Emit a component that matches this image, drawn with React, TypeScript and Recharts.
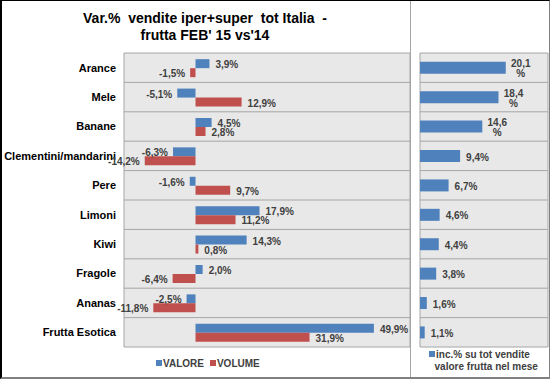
import React from 'react';
import { BarChart, Bar, XAxis, YAxis, CartesianGrid, LabelList } from 'recharts';

// categories, top to bottom
const fruits = [
  'Arance',
  'Mele',
  'Banane',
  'Clementini/mandarini',
  'Pere',
  'Limoni',
  'Kiwi',
  'Fragole',
  'Ananas',
  'Frutta Esotica',
];

// var.% FEB'15 vs FEB'14
const valore = [3.9, -5.1, 4.5, -6.3, -1.6, 17.9, 14.3, 2.0, -2.5, 49.9];
const volume = [-1.5, 12.9, 2.8, -14.2, 9.7, 11.2, 0.8, -6.4, -11.8, 31.9];

// inc.% su tot vendite valore frutta nel mese
const incidenza = [20.1, 18.4, 14.6, 9.4, 6.7, 4.6, 4.4, 3.8, 1.6, 1.1];

const varTicks = [-20, 0, 20, 40, 60];
const incTicks = [0, 10, 20, 30];

const BLUE = '#4F81BD';
const RED = '#C0504D';
const GRID = '#A6A6A6';
const PLOT_BG = '#E8E8E8';
const LABEL = '#404040';
const FONT = "Arial, 'Liberation Sans', sans-serif";

const fmt = (v: number) => v.toFixed(1).replace('.', ',') + '%';

const varData = fruits.map((name, i) => ({ name, valore: valore[i], volume: volume[i] }));
const incData = fruits.map((name, i) => ({ name, inc: incidenza[i] }));

// grid lines on the category boundaries instead of the band centres
const bandLines = ({ offset }: any) => {
  const n = fruits.length;
  return Array.from({ length: n + 1 }, (_, i) => offset.top + (i * offset.height) / n);
};

const VarLabel = (props: any) => {
  const { x, y, width, height, value } = props;
  const left = Math.min(x, x + width);
  const right = Math.max(x, x + width);
  const neg = value < 0;
  return (
    <text
      x={neg ? left - 5 : right + 6}
      y={y + height / 2 + 1}
      textAnchor={neg ? 'end' : 'start'}
      dominantBaseline="central"
      fontSize={10}
      fontWeight="bold"
      fontFamily={FONT}
      fill={LABEL}
    >
      {fmt(value)}
    </text>
  );
};

const IncLabel = (props: any) => {
  const { x, y, width, height, value } = props;
  const right = Math.max(x, x + width);
  const cy = y + height / 2;
  const common = { fontSize: 10, fontWeight: 'bold' as const, fontFamily: FONT, fill: LABEL };
  if (value >= 10) {
    // too wide for the space left: Excel wraps the "%" onto a second line
    const num = value.toFixed(1).replace('.', ',');
    return (
      <g>
        <text x={right + 15} y={cy - 4} textAnchor="middle" dominantBaseline="central" {...common}>
          {num}
        </text>
        <text x={right + 15} y={cy + 6} textAnchor="middle" dominantBaseline="central" {...common}>
          %
        </text>
      </g>
    );
  }
  return (
    <text x={right + 6} y={cy + 1} textAnchor="start" dominantBaseline="central" {...common}>
      {fmt(value)}
    </text>
  );
};

const legendText: React.CSSProperties = {
  fontFamily: FONT,
  fontSize: 10,
  fontWeight: 'bold',
  color: LABEL,
};

const Swatch = ({ color }: { color: string }) => (
  <span
    style={{
      display: 'inline-block',
      width: 6,
      height: 6,
      background: color,
      marginRight: 1,
      verticalAlign: 'middle',
      position: 'relative',
      top: -1,
    }}
  />
);

export default function App() {
  return (
    <div
      style={{
        position: 'absolute',
        left: 0,
        top: 0,
        width: 550,
        height: 379,
        background: '#fff',
        overflow: 'hidden',
      }}
    >
      <div
        style={{
          position: 'absolute',
          left: 0,
          top: 10,
          width: 410,
          textAlign: 'center',
          whiteSpace: 'pre',
          fontFamily: FONT,
          fontSize: 14,
          fontWeight: 'bold',
          lineHeight: '17px',
          color: '#000',
        }}
      >
        {"Var.%  vendite iper+super  tot Italia  -\nfrutta FEB' 15 vs'14"}
      </div>

      <div style={{ position: 'absolute', left: 0, top: 0 }}>
        <BarChart
          width={410}
          height={379}
          data={varData}
          layout="vertical"
          margin={{ top: 53, right: 0, bottom: 32, left: 0 }}
          barCategoryGap="21%"
          barGap={0}
        >
          <CartesianGrid fill={PLOT_BG} stroke={GRID} horizontalCoordinatesGenerator={bandLines} />
          <XAxis
            type="number"
            domain={[-20, 60]}
            ticks={varTicks}
            tick={false}
            tickLine={false}
            axisLine={false}
            height={0}
          />
          <YAxis
            type="category"
            dataKey="name"
            width={124}
            tickLine={false}
            axisLine={false}
            tickMargin={2}
            interval={0}
            tick={{ fontSize: 11, fontWeight: 'bold', fill: '#000', fontFamily: FONT }}
          />
          <Bar dataKey="valore" fill={BLUE} isAnimationActive={false}>
            <LabelList dataKey="valore" content={VarLabel} />
          </Bar>
          <Bar dataKey="volume" fill={RED} isAnimationActive={false}>
            <LabelList dataKey="volume" content={VarLabel} />
          </Bar>
        </BarChart>
      </div>

      <div style={{ position: 'absolute', left: 410, top: 0 }}>
        <BarChart
          width={140}
          height={379}
          data={incData}
          layout="vertical"
          margin={{ top: 53, right: 2, bottom: 32, left: 10 }}
          barCategoryGap="30%"
        >
          <CartesianGrid fill={PLOT_BG} stroke={GRID} horizontalCoordinatesGenerator={bandLines} />
          <XAxis
            type="number"
            domain={[0, 30]}
            ticks={incTicks}
            tick={false}
            tickLine={false}
            axisLine={false}
            height={0}
          />
          <YAxis type="category" dataKey="name" hide />
          <Bar dataKey="inc" fill={BLUE} isAnimationActive={false}>
            <LabelList dataKey="inc" content={IncLabel} />
          </Bar>
        </BarChart>
      </div>

      {/* panel divider */}
      <div style={{ position: 'absolute', left: 410, top: 0, width: 1, height: 379, background: GRID }} />

      <div style={{ ...legendText, position: 'absolute', left: 156, top: 358, whiteSpace: 'nowrap' }}>
        <Swatch color={BLUE} />
        VALORE
        <span style={{ display: 'inline-block', width: 6 }} />
        <Swatch color={RED} />
        VOLUME
      </div>

      <div style={{ ...legendText, position: 'absolute', left: 429, top: 349, lineHeight: '12px', whiteSpace: 'pre' }}>
        <Swatch color={BLUE} />
        {'inc.% su tot vendite\n  valore frutta nel mese'}
      </div>

      {/* outer frame */}
      <div
        style={{
          position: 'absolute',
          left: 0,
          top: 0,
          width: 550,
          height: 379,
          boxSizing: 'border-box',
          borderLeft: '2px solid #000',
          borderTop: '1px solid #000',
          borderRight: '1px solid #808080',
          borderBottom: '2px solid #808080',
          pointerEvents: 'none',
        }}
      />
    </div>
  );
}
